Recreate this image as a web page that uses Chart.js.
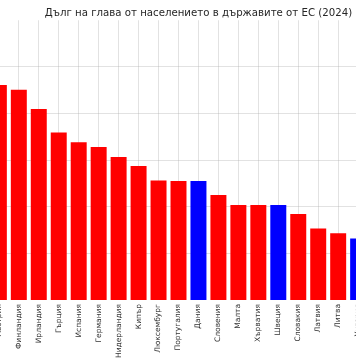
<!DOCTYPE html>
<html><head><meta charset="utf-8">
<script src="https://cdn.jsdelivr.net/npm/chart.js@4.4.0/dist/chart.umd.min.js"></script>
<style>
html,body{margin:0;padding:0;width:356px;height:364px;overflow:hidden;background:#fff;}
#wrap{position:absolute;top:0;left:0;}
</style></head><body>
<div id="wrap"><canvas id="c" width="600" height="364"></canvas></div>
<script>
const chartTitle = "Дълг на глава от населението в държавите от ЕС (2024)";
const categories = ["Белгия","Италия","Франция","Австрия","Финландия","Ирландия","Гърция","Испания","Германия","Нидерландия","Кипър","Люксембург","Португалия","Дания","Словения","Малта","Хърватия","Швеция","Словакия","Латвия","Литва","Унгария","Полша","Чехия","Румъния","Естония","България"];
const debtPerCapita = [55500,50500,48000,44800,43800,39800,34900,32900,31900,29800,27900,24900,24800,24800,21900,19800,19800,19800,17900,14900,13900,12800,10500,9800,8500,6000,3800];
const eurozone = [true,true,true,true,true,true,true,true,true,true,true,true,true,false,true,true,true,false,true,true,true,false,false,false,false,true,false];
const yMax = 58300;
const yStep = 10000;
const barColors = eurozone.map(e => e ? '#ff0000' : '#0000ff');
const gridColor = 'rgba(170,170,170,0.34)';

Chart.defaults.font.family = "'DejaVu Sans', sans-serif";

function build(width) {
  const cv = document.getElementById('c');
  cv.width = width; cv.height = 364;
  return new Chart(cv, {
    type: 'bar',
    data: {
      labels: categories,
      datasets: [{
        data: debtPerCapita,
        backgroundColor: barColors,
        borderWidth: 0,
        barPercentage: 0.8,
        categoryPercentage: 1.0
      }]
    },
    options: {
      responsive: false,
      animation: false,
      layout: { padding: 0 },
      plugins: {
        legend: { display: false },
        tooltip: { enabled: false },
        title: {
          display: true,
          text: chartTitle,
          fullSize: false,
          color: '#262626',
          font: { size: 10.2, weight: 'normal' },
          padding: { top: 7, bottom: 1 }
        }
      },
      scales: {
        x: {
          z: 1,
          grid: { color: gridColor, offset: false, drawTicks: false },
          border: { display: false },
          ticks: { color: '#333333', font: { size: 7.5 }, minRotation: 90, maxRotation: 90, autoSkip: false, padding: 4 },
          afterFit: s => { s.height = 64; }
        },
        y: {
          z: 1,
          min: 0, max: yMax,
          grid: { color: gridColor, drawTicks: false },
          border: { display: false },
          ticks: { display: false, stepSize: yStep },
          afterBuildTicks: s => { s.ticks = s.ticks.filter(t => t.value > 0 && t.value < yMax); },
          afterFit: s => { s.width = 0; }
        }
      }
    }
  });
}

let chart = build(600);
const area = chart.chartArea.right - chart.chartArea.left;
const w2 = Math.round(600 + (540 - area));
chart.destroy();
chart = build(w2);
const midPx = chart.scales.x.getPixelForValue(13);
document.getElementById('wrap').style.left = (198 - midPx) + 'px';
</script>
</body></html>
